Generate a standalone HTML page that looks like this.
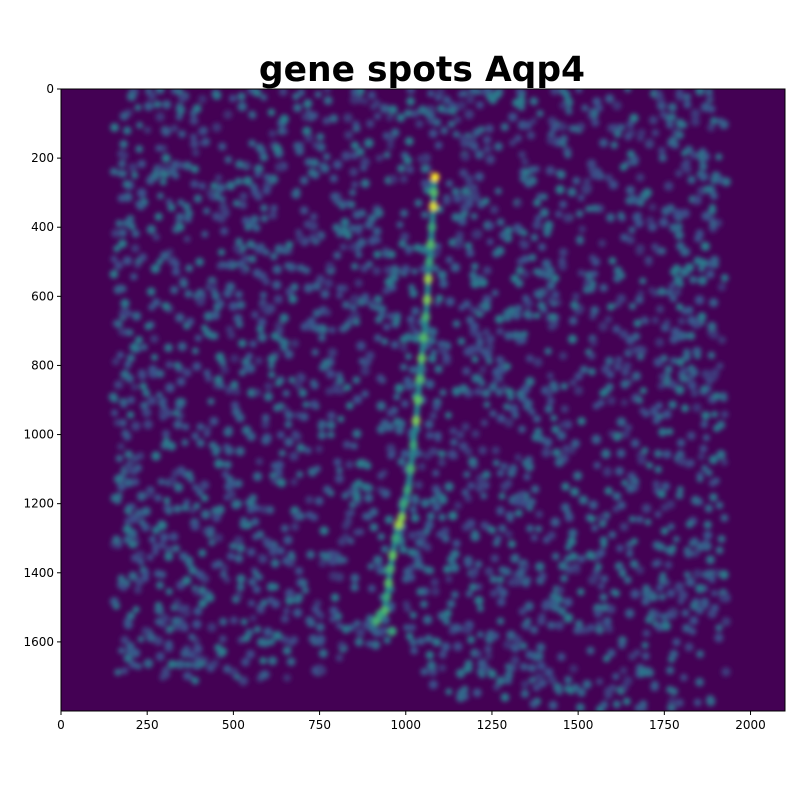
<!DOCTYPE html>
<html><head><meta charset="utf-8"><style>
body{margin:0;background:#fff;font-family:"DejaVu Sans",sans-serif}
svg text{font-family:"DejaVu Sans",sans-serif}
</style></head><body>
<svg id="c" width="800" height="800" viewBox="0 0 800 800">
<defs>
<filter id="blur" x="-5%" y="-5%" width="110%" height="110%"><feGaussianBlur stdDeviation="2.4"/></filter>
<clipPath id="clip"><rect x="61" y="89" width="724" height="622"/></clipPath>
</defs>
<text x="422" y="81" text-anchor="middle" font-size="34.5" font-weight="bold">gene spots Aqp4</text>
<g clip-path="url(#clip)">
<rect x="61" y="89" width="724" height="622" fill="#440154"/>
<g id="spots" filter="url(#blur)"></g>
</g>
<rect x="61" y="89" width="724" height="622" fill="none" stroke="#000" stroke-width="1"/>
<g id="axes"></g>
</svg>
<script>
const xTicks=[0,250,500,750,1000,1250,1500,1750,2000];
const yTicks=[0,200,400,600,800,1000,1200,1400,1600];
const ridgeX=[1085,1082,1080,1076,1072,1068,1065,1062,1058,1052,1046,1040,1035,1030,1022,1015,1005,995,988,980,970,962,955,950,945,938,925,915,960];
const ridgeY=[255,300,340,400,450,500,550,610,660,720,780,840,900,960,1030,1100,1160,1200,1240,1260,1300,1350,1390,1430,1470,1510,1520,1540,1570];
const ridgeV=[1,0.7,0.95,0.6,0.7,0.6,0.85,0.8,0.65,0.7,0.75,0.7,0.75,0.8,0.6,0.65,0.6,0.6,0.8,0.85,0.6,0.75,0.65,0.7,0.6,0.7,0.6,0.65,0.6];
const edgeX=[150,400,750,900,1000,1100,1500,1930];
const edgeY=[1690,1720,1700,1610,1620,1760,1800,1790];
const X0=61,X1=785,Y0=89,Y1=711;
const sx=v=>X0+v/2100*(X1-X0);
const sy=v=>Y0+v/1800*(Y1-Y0);
const NS="http://www.w3.org/2000/svg";
const g=document.getElementById('spots');
function viridis(t){
 const s=[[68,1,84],[59,82,139],[33,145,140],[94,201,98],[253,231,37]];
 t=Math.max(0,Math.min(1,t))*4;const i=Math.min(3,Math.floor(t)),f=t-i;
 return 'rgb('+s[i].map((c,k)=>Math.round(c+(s[i+1][k]-c)*f)).join(',')+')';
}
function edgeAt(x){for(let i=0;i<edgeX.length-1;i++){if(x<=edgeX[i+1]){const f=(x-edgeX[i])/(edgeX[i+1]-edgeX[i]);return edgeY[i]+f*(edgeY[i+1]-edgeY[i]);}}return edgeY[edgeY.length-1];}
// background speckle texture (not data)
let seed=12345;const rnd=()=>(seed=(seed*1103515245+12345)%2147483648)/2147483648;
for(let i=0;i<2600;i++){
 const x=150+rnd()*1780,y=rnd()*1800;
 if(y>edgeAt(x))continue;
 const c=document.createElementNS(NS,'circle');
 c.setAttribute('cx',sx(x));c.setAttribute('cy',sy(y));c.setAttribute('r',3.4+rnd()*1.5);
 c.setAttribute('fill',viridis(0.15+rnd()*0.28));
 
 
 g.appendChild(c);
}
const pl=document.createElementNS(NS,'polyline');
pl.setAttribute('points',ridgeX.slice(0,-1).map((x,i)=>sx(x)+','+sy(ridgeY[i])).join(' '));
pl.setAttribute('fill','none');pl.setAttribute('stroke',viridis(0.45));pl.setAttribute('stroke-width','6');


g.appendChild(pl);
ridgeX.forEach((x,i)=>{
 const c=document.createElementNS(NS,'circle');
 c.setAttribute('cx',sx(x));c.setAttribute('cy',sy(ridgeY[i]));c.setAttribute('r',4.5);
 c.setAttribute('fill',viridis(ridgeV[i]));
 
 
 g.appendChild(c);
});
const ax=document.getElementById('axes');
function add(tag,attrs,txt){const e=document.createElementNS(NS,tag);for(const k in attrs)e.setAttribute(k,attrs[k]);if(txt!==undefined)e.textContent=txt;ax.appendChild(e);return e;}
xTicks.forEach(v=>{
 const l=add('line',{x1:sx(v),x2:sx(v),y1:Y1,y2:Y1+4,stroke:'#000'});
 
 
 const t=add('text',{x:sx(v),y:Y1+18,'text-anchor':'middle','font-size':12},v);
 
 
});
yTicks.forEach(v=>{
 const l=add('line',{x1:X0-4,x2:X0,y1:sy(v),y2:sy(v),stroke:'#000'});
 
 
 const t=add('text',{x:X0-7,y:sy(v)+4,'text-anchor':'end','font-size':12},v);
 
 
});
</script>
</body></html>
